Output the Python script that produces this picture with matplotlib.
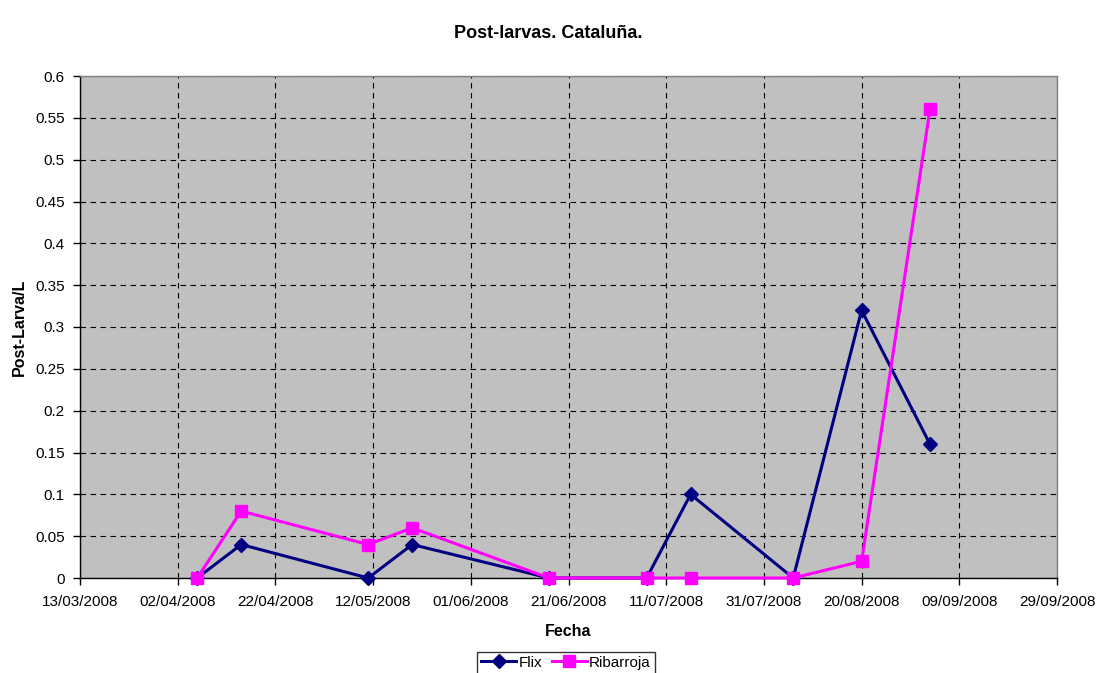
import matplotlib
matplotlib.use("Agg")
import matplotlib.pyplot as plt
from datetime import datetime

plt.rcParams['font.family'] = ['Liberation Sans', 'DejaVu Sans']

dates = ["06/04/2008", "15/04/2008", "11/05/2008", "20/05/2008", "17/06/2008",
         "07/07/2008", "16/07/2008", "06/08/2008", "20/08/2008", "03/09/2008"]
flix = [0, 0.04, 0, 0.04, 0, 0, 0.1, 0, 0.32, 0.16]
ribarroja = [0, 0.08, 0.04, 0.06, 0, 0, 0, 0, 0.02, 0.56]
tick_labels = ["13/03/2008", "02/04/2008", "22/04/2008", "12/05/2008", "01/06/2008",
               "21/06/2008", "11/07/2008", "31/07/2008", "20/08/2008", "09/09/2008",
               "29/09/2008"]
y_ticks = [0, 0.05, 0.1, 0.15, 0.2, 0.25, 0.3, 0.35, 0.4, 0.45, 0.5, 0.55, 0.6]
y_labels = ["0", "0.05", "0.1", "0.15", "0.2", "0.25", "0.3", "0.35", "0.4",
            "0.45", "0.5", "0.55", "0.6"]

x = [datetime.strptime(d, "%d/%m/%Y") for d in dates]
ticks = [datetime.strptime(d, "%d/%m/%Y") for d in tick_labels]

fig = plt.figure(figsize=(10.96, 6.73), dpi=100)
ax = fig.add_axes([80/1096, 1-578/673, (1057-80)/1096, (578-76)/673])
ax.set_facecolor('#C0C0C0')

ax.plot(x, flix, color='#000080', lw=2.2, marker='D', ms=7, label='Flix', zorder=3,
        clip_on=False)
ax.plot(x, ribarroja, color='#FF00FF', lw=2.2, marker='s', ms=8, label='Ribarroja', zorder=3,
        clip_on=False)

ax.set_xlim(ticks[0], ticks[-1])
ax.set_ylim(0, 0.6)
ax.set_xticks(ticks)
ax.set_xticklabels(tick_labels)
ax.set_yticks(y_ticks)
ax.set_yticklabels(y_labels)
ax.grid(True, color='black', linestyle=(0, (5, 4)), linewidth=0.8)
ax.set_axisbelow(True)
ax.tick_params(axis='both', direction='out', length=5, width=1, labelsize=11, colors='black')
ax.tick_params(axis='x', pad=7)
ax.tick_params(axis='y', pad=6)
for s in ['top', 'right']:
    ax.spines[s].set_color('#808080')
    ax.spines[s].set_linewidth(1)
for s in ['left', 'bottom']:
    ax.spines[s].set_color('black')
    ax.spines[s].set_linewidth(1)

ax.set_xlabel('Fecha', fontweight='bold', fontsize=11.5, labelpad=11)
ax.set_ylabel('Post-Larva/L', fontweight='bold', fontsize=11.5, labelpad=6)
fig.text(0.5, 1-33/673, 'Post-larvas. Cataluña.', ha='center', va='center',
         fontweight='bold', fontsize=13)

leg = fig.legend(loc='upper center', bbox_to_anchor=(566/1096, 1-652/673), ncol=2,
                 frameon=True, fancybox=False, edgecolor='black', fontsize=11,
                 handlelength=2.3, handletextpad=0.15, columnspacing=0.6,
                 borderpad=0.25, borderaxespad=0)
leg.get_frame().set_linewidth(1)

fig.savefig('out.png', dpi=100)
